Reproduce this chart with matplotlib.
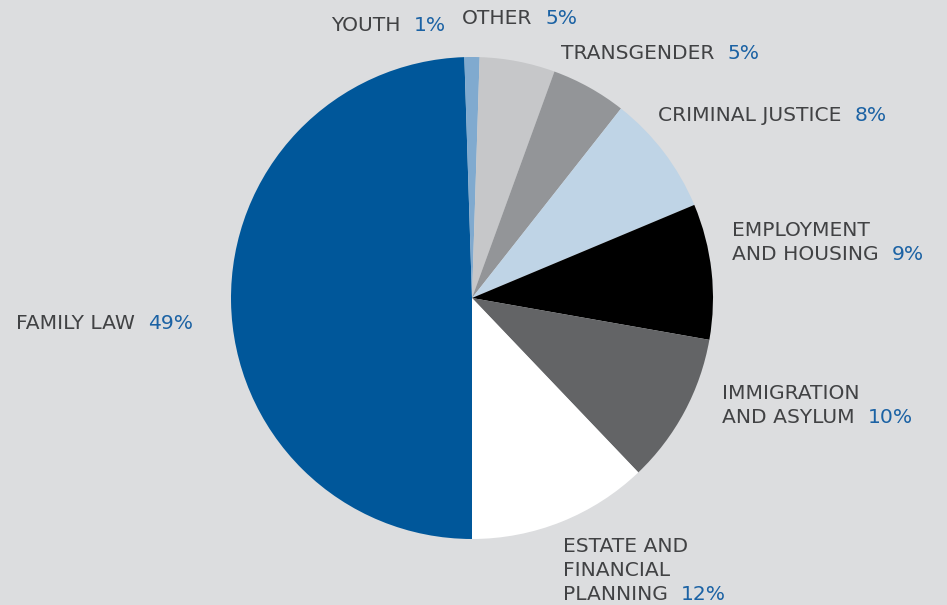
import matplotlib
matplotlib.use("Agg")
import matplotlib.pyplot as plt

# slices, clockwise from the bottom
categories = ["FAMILY LAW", "YOUTH", "OTHER", "TRANSGENDER", "CRIMINAL JUSTICE",
              "EMPLOYMENT\nAND HOUSING", "IMMIGRATION\nAND ASYLUM",
              "ESTATE AND\nFINANCIAL\nPLANNING"]
shares = [49, 1, 5, 5, 8, 9, 10, 12]
colors = ["#00579A", "#80AACF", "#C6C7C9", "#939598", "#BFD4E6",
          "#000000", "#636466", "#FFFFFF"]

BG = "#DCDDDF"
NAME_COL = "#414244"
PCT_COL = "#1B62A4"
W, H = 947, 605

# label anchor (left x, baseline of last line y) in image pixels, top-left origin
label_pos = {
    "FAMILY LAW": (16, 329),
    "YOUTH": (331, 31),
    "OTHER": (462, 24),
    "TRANSGENDER": (561, 59),
    "CRIMINAL JUSTICE": (658, 121),
    "EMPLOYMENT\nAND HOUSING": (732, 260),
    "IMMIGRATION\nAND ASYLUM": (722, 423),
    "ESTATE AND\nFINANCIAL\nPLANNING": (563, 600),
}
LINE_STEP = 24

fig = plt.figure(figsize=(W / 100, H / 100), dpi=100, facecolor=BG)
ax = fig.add_axes([0, 0, 1, 1])
ax.set_facecolor(BG)
ax.axis("off")

ax.pie(shares, colors=colors, startangle=-90, counterclock=False,
       center=(472, H - 298), radius=241, wedgeprops=dict(linewidth=0))
ax.set_xlim(0, W)
ax.set_ylim(0, H)
ax.set_aspect("equal")

fig.canvas.draw()
renderer = fig.canvas.get_renderer()
fs = 14.6
for name, val in zip(categories, shares):
    x, yb = label_pos[name]
    lines = name.split("\n")
    n = len(lines)
    for i, line in enumerate(lines):
        y = H - (yb - (n - 1 - i) * LINE_STEP)
        t = ax.text(x, y, line, color=NAME_COL, fontsize=fs, va="baseline", ha="left")
        if i == n - 1:
            bb = t.get_window_extent(renderer=renderer)
            x_end = ax.transData.inverted().transform((bb.x1, bb.y0))[0]
            ax.text(x_end + 13, y, f"{val}%", color=PCT_COL, fontsize=fs,
                    va="baseline", ha="left")

fig.savefig("out.png", dpi=100, facecolor=BG)
